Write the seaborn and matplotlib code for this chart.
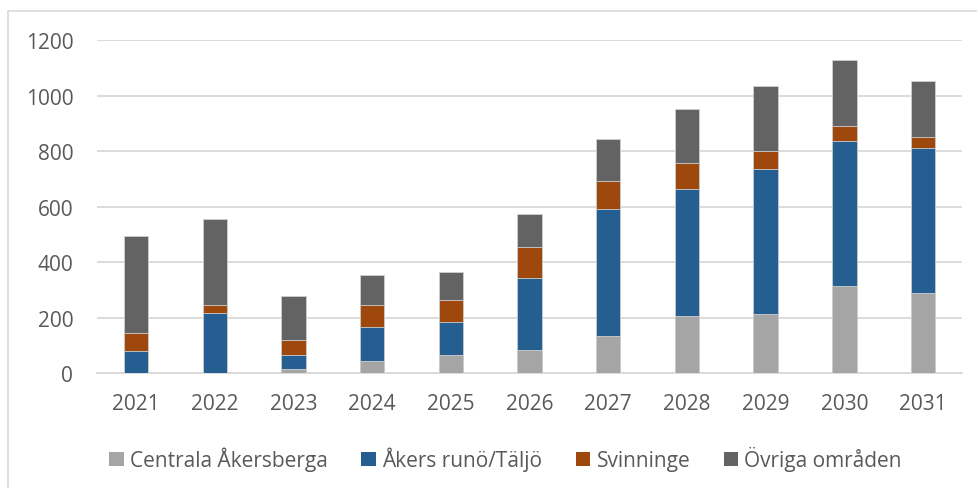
import matplotlib
matplotlib.use("Agg")
import matplotlib.pyplot as plt
import seaborn as sns
import numpy as np
import pandas as pd
from matplotlib.patches import Patch
from matplotlib.lines import Line2D

years = ["2021", "2022", "2023", "2024", "2025", "2026", "2027", "2028", "2029", "2030", "2031"]
centrala = [0, 0, 14, 43, 65, 83, 135, 204, 214, 315, 289]
akers = [78, 216, 52, 124, 120, 258, 458, 458, 521, 520, 521]
svinninge = [68, 31, 52, 80, 77, 112, 98, 94, 67, 57, 39]
ovriga = [349, 308, 161, 106, 102, 120, 151, 194, 233, 238, 204]

series_names = ["Centrala Åkersberga", "Åkers runö/Täljö", "Svinninge", "Övriga områden"]
colors = ["#A5A5A5", "#255E91", "#9E480E", "#636363"]

sns.set_style("white")
plt.rcParams['font.family'] = ['Open Sans', 'DejaVu Sans']

cum = np.cumsum(np.array([centrala, akers, svinninge, ovriga]), axis=0)

fig = plt.figure(figsize=(9.78, 4.89), dpi=100)
ax = fig.add_axes([0.099, 0.235, 0.885, 0.681])

for i in range(3, -1, -1):
    d = pd.DataFrame({"year": years, "val": cum[i]})
    sns.barplot(data=d, x="year", y="val", color=colors[i], width=0.31,
                saturation=1, ax=ax, edgecolor="#d0d0d0", linewidth=0.6, zorder=3)

ax.set_ylim(0, 1200)
ax.set_xlim(-0.5, 10.5)
ax.set_yticks(range(0, 1201, 200))
ax.yaxis.grid(True, color="#d9d9d9", linewidth=1.3, zorder=0)
ax.set_axisbelow(True)
for sp in ["top", "right", "left"]:
    ax.spines[sp].set_visible(False)
ax.spines["bottom"].set_color("#d9d9d9")
ax.spines["bottom"].set_linewidth(1.3)
ax.set_xlabel("")
ax.set_ylabel("")
ax.tick_params(axis="both", length=0, labelsize=15, labelcolor="#595959")
ax.tick_params(axis="y", pad=17)
ax.tick_params(axis="x", pad=14)

handles = [Patch(facecolor=c, edgecolor="none") for c in colors]
fig.legend(handles, series_names, loc="center", bbox_to_anchor=(0.517, 0.06), ncol=4,
           frameon=False, fontsize=15, labelcolor="#595959", handlelength=0.7,
           handleheight=0.7, handletextpad=0.3, columnspacing=1.6)

# outer chart border (left and top visible)
fig.add_artist(Line2D([8 / 978, 8 / 978], [0, 1 - 12 / 489], transform=fig.transFigure,
                      color="#d9d9d9", linewidth=1.2))
fig.add_artist(Line2D([8 / 978, 1], [1 - 12 / 489, 1 - 12 / 489], transform=fig.transFigure,
                      color="#d9d9d9", linewidth=1.2))

fig.savefig("out.png", dpi=100)
